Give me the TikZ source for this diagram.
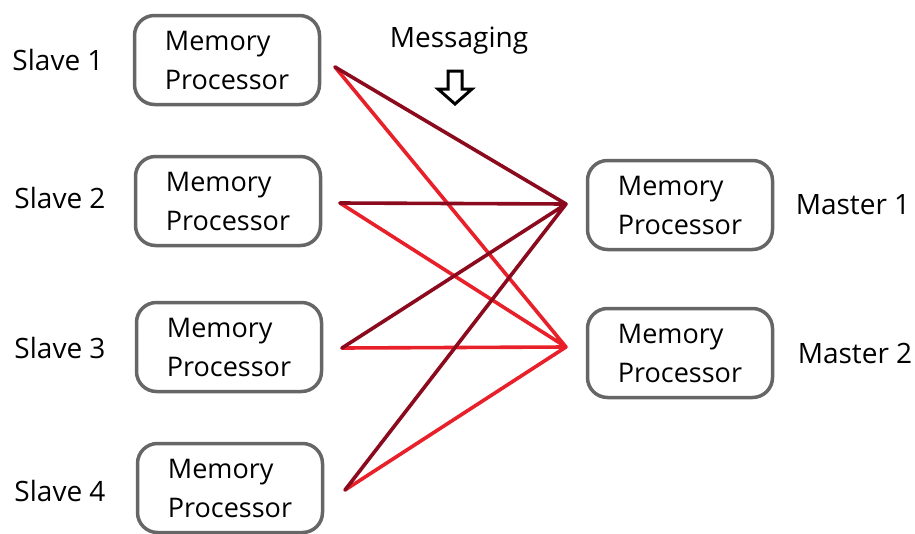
\documentclass[tikz,border=0pt]{standalone}
\usepackage{fontspec}
\setmainfont{Open Sans}
\usepackage{xcolor}
\usetikzlibrary{positioning}
\definecolor{darkred}{HTML}{8B0A1E}
\definecolor{brightred}{HTML}{E8202A}
\definecolor{boxgray}{HTML}{666666}

\begin{document}
\begin{tikzpicture}[x=1pt,y=-1pt,line cap=round,line join=round]
	\tikzstyle{mem}=[draw=boxgray, line width=3.5pt, rounded corners=20pt, minimum width=185pt, minimum height=89pt, inner sep=0pt, align=left, font=\fontsize{27}{39}\selectfont]
	\tikzstyle{lbl}=[inner sep=0pt, font=\fontsize{28}{30}\selectfont]
	\tikzstyle{tom1}=[draw=darkred, line width=3.6pt]
	\tikzstyle{tom2}=[draw=brightred, line width=3.6pt]
	\useasboundingbox (0,0) rectangle (915,533);
	% slaves
	\node[mem] (S1) at (227,60)  {Memory\\Processor};
	\node[mem] (S2) at (228,201) {Memory\\Processor};
	\node[mem] (S3) at (229,347) {Memory\\Processor};
	\node[mem] (S4) at (230,488) {Memory\\Processor};
	\node[lbl] (L1) at (58,60)  {Slave 1};
	\node[lbl] (L2) at (60,198) {Slave 2};
	\node[lbl] (L3) at (60,348) {Slave 3};
	\node[lbl] (L4) at (60,491) {Slave 4};
	% masters
	\node[mem] (M1) at (680,205) {Memory\\Processor};
	\node[mem] (M2) at (680,353) {Memory\\Processor};
	\node[lbl] (K1) at (853,205) {Master 1};
	\node[lbl] (K2) at (855,353) {Master 2};
	% wire ends
	\coordinate (S1o) at (335,67);
	\coordinate (S2o) at (340,203);
	\coordinate (S3o) at (342,348);
	\coordinate (S4o) at (345,490);
	\coordinate (M1i) at (566,204);
	\coordinate (M2i) at (566,347);
	\path[tom2] (S1o) -- (M2i) (S2o) -- (M2i) (S3o) -- (M2i) (S4o) -- (M2i);
	\path[tom1] (S1o) -- (M1i) (S2o) -- (M1i) (S3o) -- (M1i) (S4o) -- (M1i);
	% messaging
	\node[lbl] (Msg) at (459,41) {Messaging};
	\draw[line width=3pt,line join=miter,line cap=butt] (448,71) -- (462,71) -- (462,89) -- (472,89) -- (455,104) -- (438,89) -- (448,89) -- cycle;
\end{tikzpicture}
\end{document}
